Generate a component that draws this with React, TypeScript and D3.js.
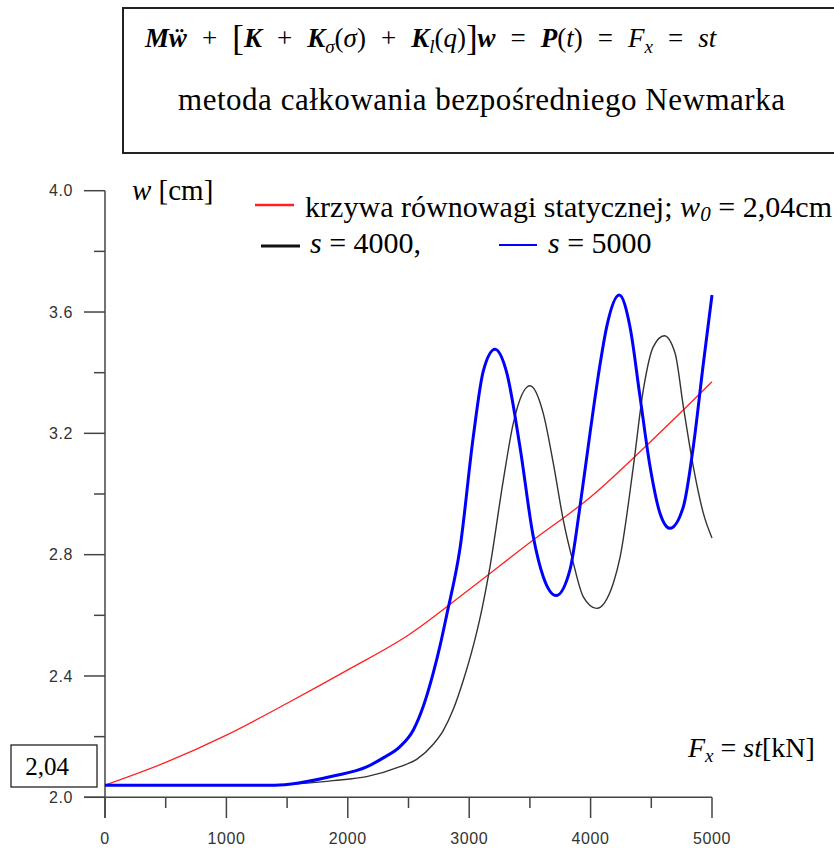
import React from 'react';
import * as d3 from 'd3';

const W = 834;
const H = 848;

// static equilibrium curve
const redX = [0, 500, 1000, 1500, 2000, 2500, 3000, 3500, 4000, 4500, 5000];
const redY = [2.04, 2.115, 2.205, 2.31, 2.42, 2.535, 2.685, 2.84, 2.99, 3.175, 3.37];

// s = 5000
const blueX = [0, 1400, 1606, 1880, 2155, 2292, 2430, 2540, 2622, 2704, 2760, 2814, 2924, 3034, 3116, 3213, 3309, 3418, 3528, 3610, 3715, 3830, 3913, 3995, 4077, 4132, 4236, 4325, 4407, 4490, 4572, 4654, 4764, 4846, 4929, 5000];
const blueY = [2.04, 2.04, 2.048, 2.07, 2.10, 2.13, 2.167, 2.222, 2.30, 2.41, 2.50, 2.60, 2.82, 3.19, 3.405, 3.477, 3.40, 3.156, 2.859, 2.727, 2.665, 2.75, 2.96, 3.20, 3.425, 3.55, 3.656, 3.55, 3.321, 3.09, 2.936, 2.887, 2.958, 3.156, 3.431, 3.656];

// s = 4000
const blackX = [0, 1400, 1606, 1880, 2155, 2430, 2567, 2704, 2786, 2869, 2951, 3034, 3102, 3171, 3281, 3363, 3501, 3610, 3693, 3775, 3858, 3940, 4050, 4187, 4242, 4352, 4434, 4517, 4607, 4696, 4764, 4846, 4929, 5000];
const blackY = [2.04, 2.04, 2.045, 2.055, 2.068, 2.101, 2.125, 2.175, 2.22, 2.29, 2.385, 2.50, 2.615, 2.76, 3.046, 3.233, 3.357, 3.266, 3.101, 2.914, 2.772, 2.661, 2.623, 2.706, 2.79, 3.09, 3.343, 3.486, 3.522, 3.464, 3.288, 3.09, 2.936, 2.855];

const xMajor = [0, 1000, 2000, 3000, 4000, 5000];
const xMinor = [500, 1500, 2500, 3500, 4500];
const yMajor = [2.0, 2.4, 2.8, 3.2, 3.6, 4.0];
const yMinor = [2.2, 2.6, 3.0, 3.4, 3.8];

const css = `
  .serif, .serif tspan { font-family: 'Liberation Serif', serif; }
  .sans { font-family: 'Liberation Sans', sans-serif; }
`;

const x = d3.scaleLinear().domain([0, 5000]).range([105, 712]);
const y = d3.scaleLinear().domain([2, 4]).range([797.3, 190.7]);

const line = (xs: number[], ys: number[]) =>
  d3.line<number>()
    .x((d, i) => x(xs[i]))
    .y((d) => y(d))
    .curve(d3.curveMonotoneX)(ys) || '';

const gap = 15;

const App = () => {
  const axisColor = '#444';
  return (
    <svg width={W} height={H} style={{ position: 'absolute', left: 0, top: 0, background: '#fff', fontFamily: 'Liberation Serif' }}>
      <style>{css}</style>
      {/* title box */}
      <rect x={123} y={8} width={720} height={145} fill="none" stroke="#222" strokeWidth={2} />
      <text className="serif" x={145} y={47} fontSize={27} fill="#000">
        <tspan fontWeight="bold" fontStyle="italic">Mẅ</tspan>
        <tspan dx={gap}>+</tspan>
        <tspan dx={gap} fontSize={35} dy={3}>[</tspan>
        <tspan dy={-3} fontWeight="bold" fontStyle="italic">K</tspan>
        <tspan dx={gap}>+</tspan>
        <tspan dx={gap} fontWeight="bold" fontStyle="italic">K</tspan>
        <tspan fontSize={19} fontStyle="italic" dy={6}>σ</tspan>
        <tspan dy={-6}>(</tspan>
        <tspan fontStyle="italic">σ</tspan>
        <tspan>)</tspan>
        <tspan dx={gap}>+</tspan>
        <tspan dx={gap} fontWeight="bold" fontStyle="italic">K</tspan>
        <tspan fontSize={19} fontStyle="italic" dy={6}>l</tspan>
        <tspan dy={-6}>(</tspan>
        <tspan fontStyle="italic">q</tspan>
        <tspan>)</tspan>
        <tspan fontSize={35} dy={3}>]</tspan>
        <tspan dy={-3} fontWeight="bold" fontStyle="italic">w</tspan>
        <tspan dx={gap}>=</tspan>
        <tspan dx={gap} fontWeight="bold" fontStyle="italic">P</tspan>
        <tspan>(</tspan>
        <tspan fontStyle="italic">t</tspan>
        <tspan>)</tspan>
        <tspan dx={gap}>=</tspan>
        <tspan dx={gap} fontStyle="italic">F</tspan>
        <tspan fontSize={19} fontStyle="italic" dy={6}>x</tspan>
        <tspan dx={gap} dy={-6}>=</tspan>
        <tspan dx={gap} fontStyle="italic">st</tspan>
      </text>
      <text className="serif" x={178} y={110} fontSize={31} fill="#000" textLength={607} lengthAdjust="spacing">
        metoda całkowania bezpośredniego Newmarka
      </text>

      {/* axes */}
      <line x1={105} x2={105} y1={y(4)} y2={818} stroke={axisColor} strokeWidth={1.5} />
      <line x1={84} x2={x(5000)} y1={y(2)} y2={y(2)} stroke={axisColor} strokeWidth={1.5} />
      {yMajor.map((v) => (
        <g key={'ym' + v}>
          <line x1={84} x2={105} y1={y(v)} y2={y(v)} stroke={axisColor} strokeWidth={1.5} />
          <text className="sans" x={73} y={y(v)} dy="0.35em" textAnchor="end" fontSize={16} letterSpacing={0.6} fill="#333">
            {v.toFixed(1)}
          </text>
        </g>
      ))}
      {yMinor.map((v) => (
        <line key={'yn' + v} x1={94} x2={105} y1={y(v)} y2={y(v)} stroke={axisColor} strokeWidth={1.5} />
      ))}
      {xMajor.map((v) => (
        <g key={'xm' + v}>
          <line x1={x(v)} x2={x(v)} y1={y(2)} y2={818} stroke={axisColor} strokeWidth={1.5} />
          <text className="sans" x={x(v)} y={838} dy="0.35em" textAnchor="middle" fontSize={16} letterSpacing={0.6} fill="#333">
            {v}
          </text>
        </g>
      ))}
      {xMinor.map((v) => (
        <line key={'xn' + v} x1={x(v)} x2={x(v)} y1={y(2)} y2={808} stroke={axisColor} strokeWidth={1.5} />
      ))}

      {/* curves */}
      <path d={line(redX, redY)} fill="none" stroke="#ff2020" strokeWidth={1.3} />
      <path d={line(blackX, blackY)} fill="none" stroke="#333" strokeWidth={1.4} />
      <path d={line(blueX, blueY)} fill="none" stroke="#0000ff" strokeWidth={3} />

      {/* axis titles */}
      <text className="serif" x={132} y={200} fontSize={29} fill="#000">
        <tspan fontStyle="italic">w</tspan>
        <tspan> [cm]</tspan>
      </text>
      <text className="serif" x={688} y={757} fontSize={28} fill="#000">
        <tspan fontStyle="italic">F</tspan>
        <tspan fontSize={19} fontStyle="italic" dy={5}>x</tspan>
        <tspan dy={-5}> = </tspan>
        <tspan fontStyle="italic">st</tspan>
        <tspan>[kN]</tspan>
      </text>

      {/* 2,04 box */}
      <rect x={11} y={745} width={86} height={42} fill="#fff" stroke="#222" strokeWidth={1.3} />
      <text className="serif" x={47} y={775} textAnchor="middle" fontSize={25} fill="#000">2,04</text>

      {/* legend */}
      <line x1={255} x2={294} y1={205} y2={205} stroke="#ff2020" strokeWidth={2.5} />
      <text className="serif" x={305} y={217} fontSize={30} fill="#000" textLength={527} lengthAdjust="spacing">
        <tspan>krzywa równowagi statycznej; </tspan>
        <tspan fontStyle="italic">w</tspan>
        <tspan fontStyle="italic" fontSize={21} dy={4}>0</tspan>
        <tspan dy={-4}> = 2,04cm</tspan>
      </text>
      <line x1={261} x2={300} y1={246} y2={246} stroke="#111" strokeWidth={3} />
      <text className="serif" x={310} y={253} fontSize={30} fill="#000">
        <tspan fontStyle="italic">s</tspan>
        <tspan> = 4000,</tspan>
      </text>
      <line x1={499} x2={537} y1={245} y2={245} stroke="#0000ff" strokeWidth={2} />
      <text className="serif" x={548} y={253} fontSize={30} fill="#000">
        <tspan fontStyle="italic">s</tspan>
        <tspan> = 5000</tspan>
      </text>
    </svg>
  );
};

export default App;
